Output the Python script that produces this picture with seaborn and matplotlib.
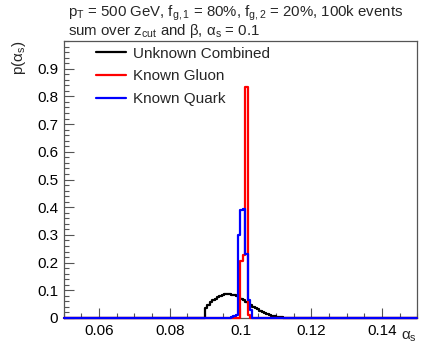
"""
Posterior p(alpha_s) histograms: combined vs known gluon / quark samples.
"""
import numpy as np
import pandas as pd
import matplotlib
matplotlib.use("Agg")
import matplotlib.pyplot as plt
from matplotlib.ticker import MultipleLocator
import seaborn as sns

# Histogram binning (150 bins over the plotted alpha_s range)
alpha_lo, alpha_hi, n_bins = 0.05, 0.15, 150

# Non-empty bins of each series: first bin lower edge + bin contents
combined_start = 0.0900
combined_vals = [0.036, 0.047, 0.057, 0.064, 0.070, 0.075, 0.079, 0.082, 0.085, 0.086,
                 0.086, 0.084, 0.082, 0.079, 0.075, 0.070, 0.064, 0.058, 0.052, 0.046,
                 0.041, 0.036, 0.031, 0.026, 0.022, 0.018, 0.014, 0.011, 0.008, 0.006,
                 0.004, 0.003, 0.002, 0.001]
gluon_start = 0.1000
gluon_vals = [0.204, 0.228, 0.835, 0.010]
quark_start = 0.09733
quark_vals = [0.004, 0.008, 0.012, 0.300, 0.390, 0.395, 0.232, 0.065, 0.029]

labels = ["Unknown Combined", "Known Gluon", "Known Quark"]
colors = ["black", "#ff0000", "#0000ff"]

sns.set_theme(style="white")
plt.rcParams["font.family"] = ["Liberation Sans", "DejaVu Sans"]
plt.rcParams["mathtext.fontset"] = "custom"
plt.rcParams["mathtext.rm"] = "Liberation Sans"
plt.rcParams["mathtext.it"] = "Liberation Sans"
plt.rcParams["mathtext.default"] = "regular"

edges = np.linspace(alpha_lo, alpha_hi, n_bins + 1)
centers = 0.5 * (edges[:-1] + edges[1:])
width = edges[1] - edges[0]


def full_counts(start, vals):
    counts = np.zeros(n_bins)
    i0 = int(round((start - alpha_lo) / width))
    counts[i0:i0 + len(vals)] = vals
    return counts


series = [full_counts(combined_start, combined_vals),
          full_counts(gluon_start, gluon_vals),
          full_counts(quark_start, quark_vals)]

fig = plt.figure(figsize=(4.23, 3.47), dpi=100)
ax = fig.add_axes([0.1506, 0.0836, 0.8359, 0.7982])

for counts, lab, col in zip(series, labels, colors):
    df = pd.DataFrame({"alpha": centers, "p": counts})
    sns.histplot(data=df, x="alpha", weights="p", bins=n_bins, binrange=(alpha_lo, alpha_hi),
                 element="step", fill=False, color=col, linewidth=1.6, label=lab, ax=ax)
for ln in ax.lines:
    ln.set_zorder(3)
    ln.set_clip_on(False)

ax.set_xlim(alpha_lo, alpha_hi)
ax.set_ylim(0, 1.0)
ax.set_xlabel("")
ax.set_ylabel("")

ax.xaxis.set_minor_locator(MultipleLocator(0.005))
ax.yaxis.set_minor_locator(MultipleLocator(0.02))
ax.set_xticks([0.06, 0.08, 0.10, 0.12, 0.14])
ax.set_xticklabels(["0.06", "0.08", "0.1", "0.12", "0.14"])
ax.set_yticks(np.arange(0, 10) / 10)
ax.set_yticklabels(["0"] + [f"{v / 10:g}" for v in range(1, 10)])
ax.tick_params(axis="both", which="both", direction="in", bottom=True, left=True,
               top=False, right=False, colors="#555555", labelcolor="black",
               labelsize=11, pad=4)
ax.tick_params(axis="both", which="major", length=7, width=0.8)
ax.tick_params(axis="both", which="minor", length=3.5, width=0.8)
for sp in ax.spines.values():
    sp.set_color("#555555")
    sp.set_linewidth(0.9)

ax.legend(loc="upper left", bbox_to_anchor=(0.09, 0.98), frameon=False, fontsize=11,
          handlelength=2.0, handletextpad=0.45, labelspacing=0.58,
          borderpad=0, borderaxespad=0)

fig.text(0.161, 0.951, r"$p_T$ = 500 GeV, $f_{g,1}$ = 80%, $f_{g,2}$ = 20%, 100k events",
         fontsize=10.8, ha="left", va="baseline")
fig.text(0.161, 0.898, r"sum over $z_{cut}$ and $\beta$, $\alpha_s$ = 0.1",
         fontsize=10.8, ha="left", va="baseline")
fig.text(0.045, 0.882, r"p($\alpha_s$)", fontsize=11, rotation=90, ha="center", va="top")
fig.text(0.985, 0.022, r"$\alpha_s$", fontsize=11, ha="right", va="baseline")

fig.savefig("out.png", dpi=100)
